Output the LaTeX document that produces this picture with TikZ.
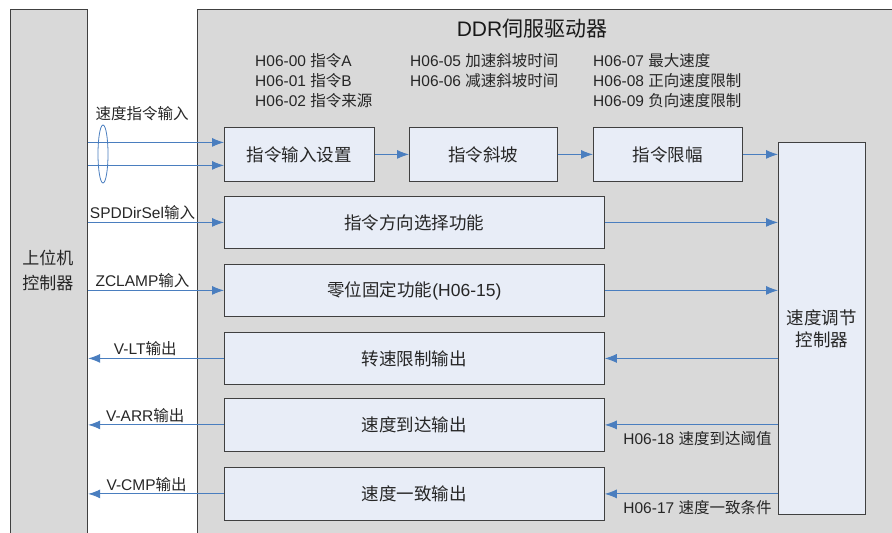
\documentclass[tikz,border=0pt]{standalone}
\usepackage{fontspec}
\setmainfont{Liberation Sans}
\newfontfamily\cjk{Noto Sans CJK SC}
\usetikzlibrary{calc,arrows.meta}

\definecolor{panelgray}{HTML}{D9D9D9}
\definecolor{blkblue}{HTML}{E8EDF7}
\definecolor{sigblue}{HTML}{4A7EBF}
\tikzset{
  panel/.style={draw=black!75, line width=1.2pt, fill=panelgray, anchor=north west},
  blk/.style={draw=black!75, line width=0.8pt, fill=blkblue, anchor=north west,
    text=black!85, font=\fontsize{17.5}{22}\selectfont},
  sig/.style={draw=sigblue, line width=0.9pt, -{Latex[length=12pt,width=9pt]}},
  lbl/.style={text=black!85, font=\fontsize{15.5}{20}\selectfont, inner sep=2pt},
  par/.style={lbl, align=left, anchor=north west, inner sep=0pt}
}

\begin{document}
\begin{tikzpicture}[x=1pt,y=-1pt]
  \useasboundingbox (0,0) rectangle (892,533);
  % two panels
  \node[panel, minimum width=77pt, minimum height=560pt] (host) at (10,9) {};
  \node[panel, minimum width=720pt, minimum height=560pt] (drive) at (197,9) {};
  \node[text=black!85, font=\fontsize{17}{25}\selectfont, align=center] (hostlbl) at (48,270)
    {\cjk 上位机\\\cjk 控制器};
  \node[text=black!90, font=\fontsize{21}{24}\selectfont] (title) at (532,29) {DDR{\cjk 伺服驱动器}};

  % parameters
  \node[par] (parA) at (255,53) {H06-00 {\cjk 指令}A\\H06-01 {\cjk 指令}B\\H06-02 {\cjk 指令来源}};
  \node[par] (parB) at (410,53) {H06-05 {\cjk 加速斜坡时间}\\H06-06 {\cjk 减速斜坡时间}};
  \node[par] (parC) at (593,53) {H06-07 {\cjk 最大速度}\\H06-08 {\cjk 正向速度限制}\\H06-09 {\cjk 负向速度限制}};

  % blocks
  \node[blk, minimum width=150pt, minimum height=54pt] (cmdin) at (224,127) {\cjk 指令输入设置};
  \node[blk, minimum width=148pt, minimum height=54pt] (ramp) at (409,127) {\cjk 指令斜坡};
  \node[blk, minimum width=149pt, minimum height=54pt] (cmdlim) at (593,127) {\cjk 指令限幅};
  \node[blk, minimum width=87pt, minimum height=372pt, align=center] (spdctl) at (778,142)
    {\cjk 速度调节\\\cjk 控制器};
  \node[blk, minimum width=380pt, minimum height=52pt] (dirsel) at (224,196) {\cjk 指令方向选择功能};
  \node[blk, minimum width=380pt, minimum height=52pt] (zclamp) at (224,264) {{\cjk 零位固定功能}(H06-15)};
  \node[blk, minimum width=380pt, minimum height=52pt] (vlt) at (224,332) {\cjk 转速限制输出};
  \node[blk, minimum width=380pt, minimum height=53pt] (varr) at (224,398) {\cjk 速度到达输出};
  \node[blk, minimum width=380pt, minimum height=53pt] (vcmp) at (224,467) {\cjk 速度一致输出};

  % speed command inputs
  \coordinate (inA) at ([yshift=12pt]cmdin.west);
  \coordinate (inB) at ([yshift=-11pt]cmdin.west);
  \draw[sig] (inA -| host.east) -- (inA);
  \draw[sig] (inB -| host.east) -- (inB);
  \draw[draw=sigblue, line width=0.8pt] (103,154) ellipse [x radius=5pt, y radius=29pt];
  \node[lbl] (spdin) at (142,114) {\cjk 速度指令输入};

  % host signals
  \draw[sig] (dirsel.west -| host.east) -- node[lbl, above, pos=0.4] (dirlbl) {SPDDirSel{\cjk 输入}} (dirsel.west);
  \draw[sig] (zclamp.west -| host.east) -- node[lbl, above, pos=0.4] (zcllbl) {ZCLAMP{\cjk 输入}} (zclamp.west);
  \draw[sig] (vlt.west) -- node[lbl, above, pos=0.58] (vltlbl) {V-LT{\cjk 输出}} (vlt.west -| host.east);
  \draw[sig] (varr.west) -- node[lbl, above, pos=0.58] (varrlbl) {V-ARR{\cjk 输出}} (varr.west -| host.east);
  \draw[sig] (vcmp.west) -- node[lbl, above, pos=0.57] (vcmplbl) {V-CMP{\cjk 输出}} (vcmp.west -| host.east);

  % command chain
  \draw[sig] (cmdin) -- (ramp);
  \draw[sig] (ramp) -- (cmdlim);
  \draw[sig] (cmdlim.east) -- (cmdlim.east -| spdctl.west);
  \draw[sig] (dirsel.east) -- (dirsel.east -| spdctl.west);
  \draw[sig] (zclamp.east) -- (zclamp.east -| spdctl.west);

  % speed controller outputs
  \draw[sig] (vlt.east -| spdctl.west) -- (vlt.east);
  \draw[sig] (varr.east -| spdctl.west) -- node[lbl, below left, pos=0, xshift=-4pt, yshift=-4pt] (arrpar) {H06-18 {\cjk 速度到达阈值}} (varr.east);
  \draw[sig] (vcmp.east -| spdctl.west) -- node[lbl, below left, pos=0, xshift=-4pt, yshift=-4pt] (cmppar) {H06-17 {\cjk 速度一致条件}} (vcmp.east);
\end{tikzpicture}
\end{document}
